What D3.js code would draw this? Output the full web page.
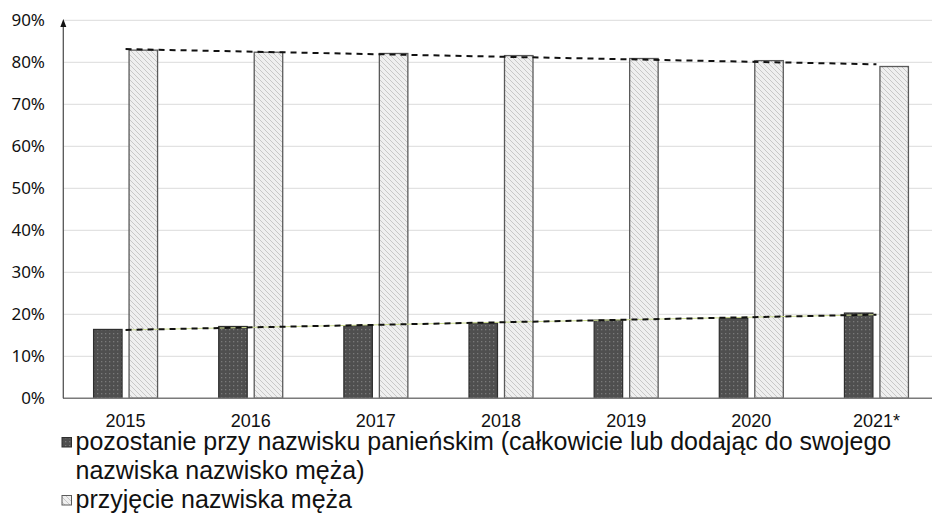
<!DOCTYPE html>
<html><head><meta charset="utf-8">
<script src="https://cdn.jsdelivr.net/npm/d3@7/dist/d3.min.js"></script>
<style>body{margin:0;background:#fff}svg{display:block}</style>
</head><body>
<svg id="c" width="932" height="529"></svg>
<script>
const years = ["2015","2016","2017","2018","2019","2020","2021*"];
const maiden = [16.4, 17.1, 17.3, 17.9, 18.6, 19.1, 20.3];
const husband = [82.9, 82.4, 82.1, 81.6, 80.9, 80.4, 79.0];
const yTicks = [0,10,20,30,40,50,60,70,80,90];
const legendLabels = [
  ["pozostanie przy nazwisku panieńskim (całkowicie lub dodając do swojego","nazwiska nazwisko męża)"],
  ["przyjęcie nazwiska męża"]
];

const svg = d3.select("#c");
const defs = svg.append("defs");
const p1 = defs.append("pattern").attr("id","dots").attr("patternUnits","userSpaceOnUse").attr("width",4).attr("height",4);
p1.append("rect").attr("width",4).attr("height",4).attr("fill","#4f4f4f");
p1.append("rect").attr("x",1).attr("y",1).attr("width",1.3).attr("height",1.3).attr("fill","#7a7a7a");
const p2 = defs.append("pattern").attr("id","hatch").attr("patternUnits","userSpaceOnUse").attr("width",5).attr("height",5);
p2.append("rect").attr("width",5).attr("height",5).attr("fill","#efefef");
p2.append("path").attr("d","M0,0 L5,5 M-1,4 L1,6 M4,-1 L6,1").attr("stroke","#c4c4c4").attr("stroke-width",0.9);

const x0 = d3.scaleBand().domain(years).range([63, 939]).paddingInner(0).paddingOuter(0);
const y = d3.scaleLinear().domain([0, 90]).range([398.3, 20.3]);

svg.append("g").selectAll("line").data(yTicks.filter(d=>d>0)).join("line")
  .attr("x1",63).attr("x2",932).attr("y1",d=>y(d)).attr("y2",d=>y(d))
  .attr("stroke","#e2e2e2").attr("stroke-width",1.3);

const yAxis = d3.axisLeft(y).tickValues(yTicks).tickFormat(d=>d+"%").tickSize(0).tickPadding(18);
const ga = svg.append("g").attr("transform","translate(63,0)").call(yAxis);
ga.select(".domain").remove();
ga.selectAll("text").attr("font-family","'Noto Sans', sans-serif").attr("font-size",17).attr("fill","#111").attr("dy","0.33em");

const bw = 28.5, gap = 7;
const groups = svg.append("g").selectAll("g").data(years).join("g");
groups.append("rect")
  .attr("x",(d)=>x0(d)+x0.bandwidth()/2 - gap/2 - bw)
  .attr("width",bw)
  .attr("y",(d,i)=>y(maiden[i])).attr("height",(d,i)=>y(0)-y(maiden[i]))
  .attr("fill","url(#dots)").attr("stroke","#2e2e2e").attr("stroke-width",1.2);
groups.append("rect")
  .attr("x",(d)=>x0(d)+x0.bandwidth()/2 + gap/2)
  .attr("width",bw)
  .attr("y",(d,i)=>y(husband[i])).attr("height",(d,i)=>y(0)-y(husband[i]))
  .attr("fill","url(#hatch)").attr("stroke","#5a5a5a").attr("stroke-width",1.3);

function fit(vals){
  const n = vals.length, mx = (n-1)/2, my = d3.mean(vals);
  let sxy=0, sxx=0;
  vals.forEach((v,i)=>{sxy+=(i-mx)*(v-my); sxx+=(i-mx)*(i-mx);});
  const b = sxy/sxx, a = my - b*mx;
  return [a, a + b*(n-1)];
}
const cx = d=>x0(d)+x0.bandwidth()/2;
[[maiden,true],[husband,false]].forEach(([vals,green])=>{
  const [v0,v1] = fit(vals);
  if (green) svg.append("line").attr("x1",cx(years[0])).attr("x2",cx(years[years.length-1]))
    .attr("y1",y(v0)).attr("y2",y(v1)).attr("stroke","#c9d98a").attr("stroke-width",1);
  svg.append("line").attr("x1",cx(years[0])).attr("x2",cx(years[years.length-1]))
    .attr("y1",y(v0)).attr("y2",y(v1)).attr("stroke","#111").attr("stroke-width",2)
    .attr("stroke-dasharray","6,5");
});

svg.append("line").attr("x1",63).attr("x2",932).attr("y1",y(0)).attr("y2",y(0)).attr("stroke","#7a7a7a").attr("stroke-width",1.5);
svg.append("line").attr("x1",63.3).attr("x2",63.3).attr("y1",y(0)).attr("y2",26).attr("stroke","#555").attr("stroke-width",1.3);
svg.append("path").attr("d","M63.3,19 L60.3,27 L66.3,27 Z").attr("fill","#111");

const xAxis = d3.axisBottom(x0).tickSize(0).tickPadding(16);
const gx = svg.append("g").attr("transform",`translate(0,${y(0)})`).call(xAxis);
gx.select(".domain").remove();
gx.selectAll("text").attr("font-family","'Liberation Sans', Arial, sans-serif").attr("font-size",18).attr("fill","#111");

const lg = svg.append("g").attr("font-family","'Liberation Sans', Arial, sans-serif").attr("font-size",25).attr("fill","#111");
lg.append("rect").attr("x",62).attr("y",437.5).attr("width",9.5).attr("height",9.5).attr("fill","url(#dots)").attr("stroke","#2e2e2e").attr("stroke-width",1);
lg.append("text").attr("x",75.5).attr("y",450).text(legendLabels[0][0]);
lg.append("text").attr("x",75.5).attr("y",479).text(legendLabels[0][1]);
lg.append("rect").attr("x",62).attr("y",495.5).attr("width",9.5).attr("height",9.5).attr("fill","url(#hatch)").attr("stroke","#5a5a5a").attr("stroke-width",1);
lg.append("text").attr("x",75.5).attr("y",508).text(legendLabels[1][0]);
</script>
</body></html>
